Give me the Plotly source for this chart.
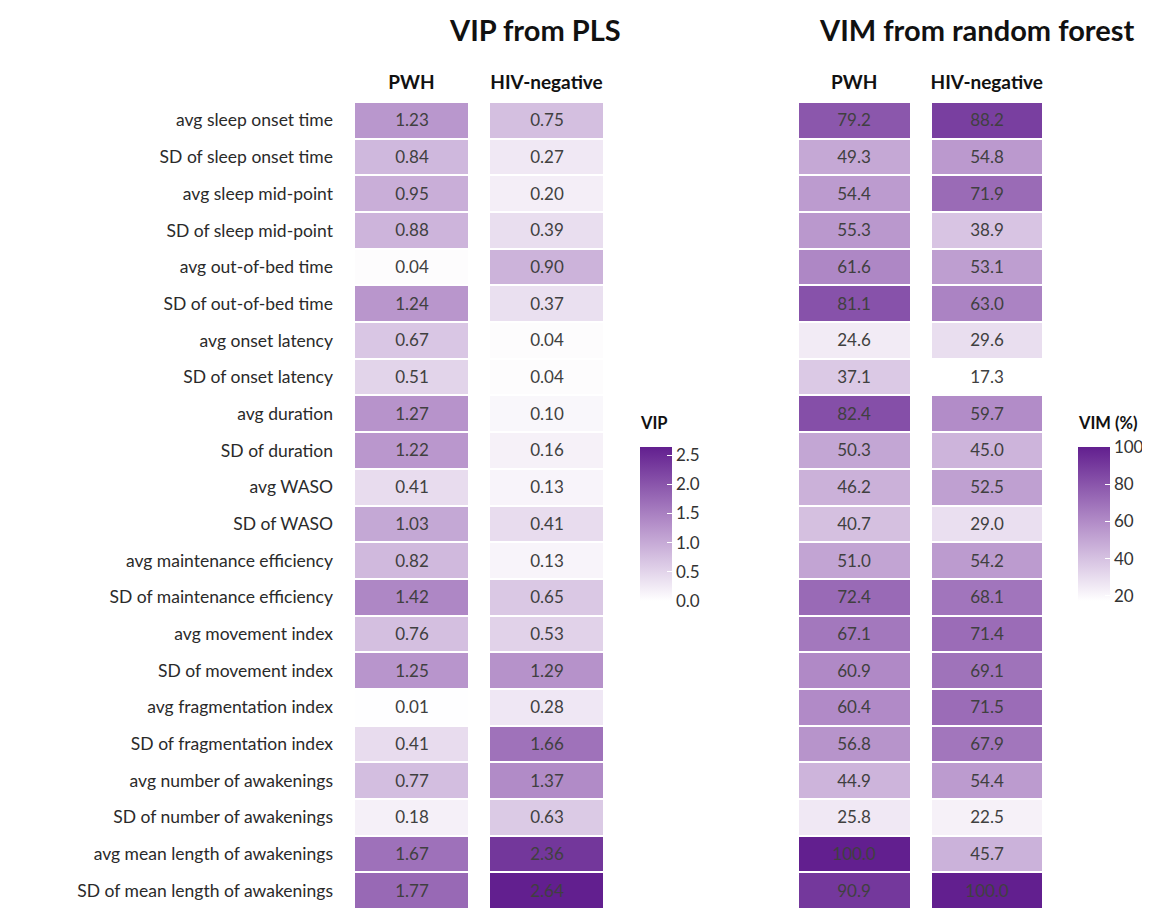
import plotly.graph_objects as go

features = [
    "avg sleep onset time", "SD of sleep onset time", "avg sleep mid-point",
    "SD of sleep mid-point", "avg out-of-bed time", "SD of out-of-bed time",
    "avg onset latency", "SD of onset latency", "avg duration", "SD of duration",
    "avg WASO", "SD of WASO", "avg maintenance efficiency",
    "SD of maintenance efficiency", "avg movement index", "SD of movement index",
    "avg fragmentation index", "SD of fragmentation index",
    "avg number of awakenings", "SD of number of awakenings",
    "avg mean length of awakenings", "SD of mean length of awakenings",
]
groups = ["PWH", "HIV-negative"]

vip_pwh = [1.23, 0.84, 0.95, 0.88, 0.04, 1.24, 0.67, 0.51, 1.27, 1.22, 0.41,
           1.03, 0.82, 1.42, 0.76, 1.25, 0.01, 0.41, 0.77, 0.18, 1.67, 1.77]
vip_neg = [0.75, 0.27, 0.20, 0.39, 0.90, 0.37, 0.04, 0.04, 0.10, 0.16, 0.13,
           0.41, 0.13, 0.65, 0.53, 1.29, 0.28, 1.66, 1.37, 0.63, 2.36, 2.64]
vim_pwh = [79.2, 49.3, 54.4, 55.3, 61.6, 81.1, 24.6, 37.1, 82.4, 50.3, 46.2,
           40.7, 51.0, 72.4, 67.1, 60.9, 60.4, 56.8, 44.9, 25.8, 100.0, 90.9]
vim_neg = [88.2, 54.8, 71.9, 38.9, 53.1, 63.0, 29.6, 17.3, 59.7, 45.0, 52.5,
           29.0, 54.2, 68.1, 71.4, 69.1, 71.5, 67.9, 54.4, 22.5, 45.7, 100.0]

OFF = 8                      # page body margin
W, H = 1150 - OFF, 909 - OFF
MT, MB = 102 - OFF, 0
PLOT_H = H - MT - MB
colorscale = [[0.0, "#FFFFFF"], [0.5, "#B48FC9"], [1.0, "#621F8F"]]
FONT = "Lato"

def px_x(p):
    return (p - OFF) / W

def px_y(p):
    return (H - MB - (p - OFF)) / PLOT_H

vip_z = [[a, b] for a, b in zip(vip_pwh, vip_neg)]
vim_z = [[a, b] for a, b in zip(vim_pwh, vim_neg)]

CB_LEN = 154
CB_BOTTOM = 601

fig = go.Figure()
fig.add_trace(go.Heatmap(
    z=vip_z, x=groups, y=features, colorscale=colorscale,
    zmin=0.0, zmax=max(vip_pwh + vip_neg),
    xgap=22, ygap=2, texttemplate="%{z:.2f}",
    textfont=dict(family=FONT, size=17, color="#404040"),
    xaxis="x", yaxis="y",
    colorbar=dict(
        lenmode="pixels", len=CB_LEN, thickness=32, thicknessmode="pixels",
        x=px_x(640), xanchor="left", y=px_y(CB_BOTTOM), yanchor="bottom",
        xpad=0, ypad=0, outlinewidth=0,
        tickvals=[0.0, 0.5, 1.0, 1.5, 2.0, 2.5], ticktext=["0.0", "0.5", "1.0", "1.5", "2.0", "2.5"],
        ticks="inside", ticklen=5, tickcolor="white", tickwidth=1,
        tickfont=dict(family=FONT, size=17, color="#333"),
    ),
))
fig.add_trace(go.Heatmap(
    z=vim_z, x=groups, y=features, colorscale=colorscale,
    zmin=min(vim_pwh + vim_neg), zmax=max(vim_pwh + vim_neg),
    xgap=22, ygap=2, texttemplate="%{z:.1f}",
    textfont=dict(family=FONT, size=17, color="#404040"),
    xaxis="x2", yaxis="y2",
    colorbar=dict(
        lenmode="pixels", len=CB_LEN, thickness=32, thicknessmode="pixels",
        x=px_x(1078), xanchor="left", y=px_y(CB_BOTTOM), yanchor="bottom",
        xpad=0, ypad=0, outlinewidth=0,
        tickvals=[20, 40, 60, 80, 100],
        ticks="inside", ticklen=5, tickcolor="white", tickwidth=1,
        tickfont=dict(family=FONT, size=17, color="#333"),
    ),
))

ax_common = dict(side="top", showgrid=False, zeroline=False, showline=False, ticks="",
                 tickfont=dict(family=FONT, size=19, color="#111"), ticklabelstandoff=8,
                 tickvals=groups, ticktext=["<b>" + g + "</b>" for g in groups])
fig.update_layout(
    width=W, height=H,
    margin=dict(l=0, r=0, t=MT, b=MB),
    plot_bgcolor="white", paper_bgcolor="white",
    font=dict(family=FONT),
    xaxis=dict(domain=[px_x(344), px_x(614)], anchor="y", **ax_common),
    xaxis2=dict(domain=[px_x(788), px_x(1053)], anchor="y2", **ax_common),
    yaxis=dict(autorange="reversed", domain=[0, 1], anchor="x", showgrid=False,
               zeroline=False, ticks="", automargin=False, ticklabelstandoff=10,
               tickfont=dict(family=FONT, size=17.5, color="#2a2a2a")),
    yaxis2=dict(autorange="reversed", domain=[0, 1], anchor="x2", showgrid=False,
                zeroline=False, showticklabels=False, ticks=""),
    annotations=[
        dict(text="<b>VIP from PLS</b>", x=px_x(535), y=px_y(30), xref="paper", yref="paper",
             showarrow=False, font=dict(family=FONT, size=29, color="#111"),
             xanchor="center", yanchor="middle"),
        dict(text="<b>VIM from random forest</b>", x=px_x(976), y=px_y(30), xref="paper", yref="paper",
             showarrow=False, font=dict(family=FONT, size=29, color="#111"),
             xanchor="center", yanchor="middle"),
        dict(text="<b>VIP</b>", x=px_x(638), y=px_y(423), xref="paper", yref="paper",
             showarrow=False, font=dict(family=FONT, size=16.5, color="#111"),
             xanchor="left", yanchor="middle"),
        dict(text="<b>VIM (%)</b>", x=px_x(1076), y=px_y(423), xref="paper", yref="paper",
             showarrow=False, font=dict(family=FONT, size=16.5, color="#111"),
             xanchor="left", yanchor="middle"),
    ],
)

fig.write_html("out.html")
